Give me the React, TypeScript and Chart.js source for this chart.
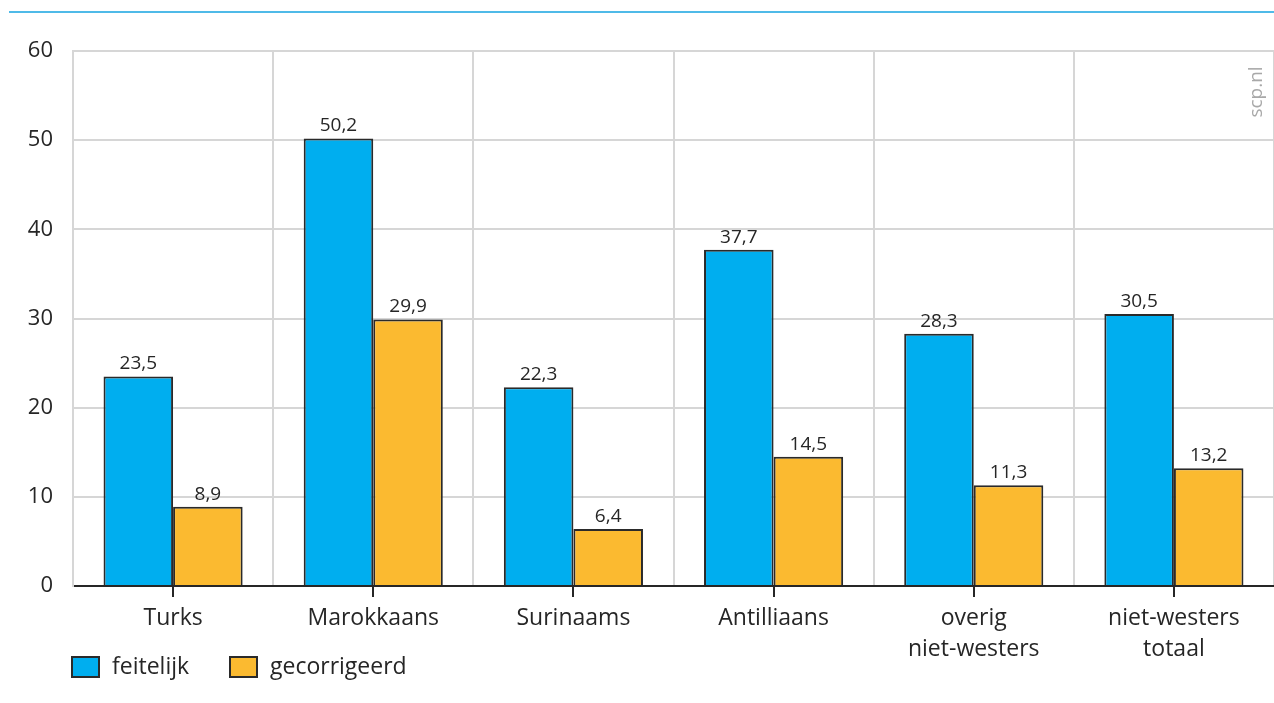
import React, { useEffect, useRef } from 'react';
import { Chart, registerables } from 'chart.js';

Chart.register(...registerables);

const categories: (string | string[])[] = [
  'Turks',
  'Marokkaans',
  'Surinaams',
  'Antilliaans',
  ['overig', 'niet-westers'],
  ['niet-westers', 'totaal'],
];
const feitelijk = [23.5, 50.2, 22.3, 37.7, 28.3, 30.5];
const gecorrigeerd = [8.9, 29.9, 6.4, 14.5, 11.3, 13.2];
const seriesNames = ['feitelijk', 'gecorrigeerd'];
const yMax = 60;
const yStep = 10;
const sourceText = 'scp.nl';

const BLUE = '#00AEEF';
const ORANGE = '#FBBA30';
const EDGE = '#2a2a2a';
const TEXT = '#262626';
const GRID = '#d6d6d6';
const FONT = '"Open Sans", "Noto Sans", sans-serif';

const fmt = (v: number) => v.toFixed(1).replace('.', ',');

const decorPlugin = {
  id: 'decor',
  afterDatasetsDraw(chart: any) {
    const ctx = chart.ctx;
    const xs = chart.scales.x;
    const area = chart.chartArea;
    ctx.save();
    // value labels
    ctx.font = `19px ${FONT}`;
    ctx.fillStyle = TEXT;
    ctx.textAlign = 'center';
    ctx.textBaseline = 'bottom';
    chart.data.datasets.forEach((ds: any, di: number) => {
      const meta = chart.getDatasetMeta(di);
      meta.data.forEach((bar: any, i: number) => {
        ctx.fillText(fmt(ds.data[i]), bar.x, bar.y - 3);
      });
    });
    // tick marks at category centers
    ctx.strokeStyle = TEXT;
    ctx.lineWidth = 2;
    categories.forEach((_, i) => {
      const x = Math.round(xs.getPixelForValue(i));
      ctx.beginPath();
      ctx.moveTo(x, area.bottom);
      ctx.lineTo(x, area.bottom + 11);
      ctx.stroke();
    });
    ctx.restore();
  },
  afterDraw(chart: any) {
    const ctx = chart.ctx;
    ctx.save();
    // top rule
    ctx.strokeStyle = '#14a3e0';
    ctx.lineWidth = 1.5;
    ctx.beginPath();
    ctx.moveTo(9, 12);
    ctx.lineTo(chart.width, 12);
    ctx.stroke();
    // source text
    ctx.translate(1257, 92);
    ctx.rotate(-Math.PI / 2);
    ctx.font = `19px ${FONT}`;
    ctx.fillStyle = '#a8a8a8';
    ctx.textAlign = 'center';
    ctx.textBaseline = 'middle';
    ctx.fillText(sourceText, 0, 0);
    ctx.restore();
    // legend
    ctx.save();
    const colors = [BLUE, ORANGE];
    const boxX = [72, 230];
    ctx.font = `23px ${FONT}`;
    ctx.textBaseline = 'middle';
    ctx.textAlign = 'left';
    seriesNames.forEach((name, i) => {
      ctx.fillStyle = colors[i];
      ctx.fillRect(boxX[i], 657, 27, 20);
      ctx.strokeStyle = EDGE;
      ctx.lineWidth = 2;
      ctx.strokeRect(boxX[i], 657, 27, 20);
      ctx.fillStyle = TEXT;
      ctx.fillText(name, boxX[i] + 40, 667);
    });
    ctx.restore();
  },
};

export default function App() {
  const ref = useRef<HTMLCanvasElement>(null);
  useEffect(() => {
    if (!ref.current) return;
    const chart = new Chart(ref.current, {
      type: 'bar',
      data: {
        labels: categories as any,
        datasets: [
          {
            label: seriesNames[0],
            data: feitelijk,
            backgroundColor: BLUE,
            borderColor: EDGE,
            borderWidth: 2,
            barPercentage: 1,
            categoryPercentage: 0.695,
          },
          {
            label: seriesNames[1],
            data: gecorrigeerd,
            backgroundColor: ORANGE,
            borderColor: EDGE,
            borderWidth: 2,
            barPercentage: 1,
            categoryPercentage: 0.695,
          },
        ],
      },
      options: {
        animation: false,
        responsive: true,
        maintainAspectRatio: false,
        layout: { padding: { top: 51, right: 0, left: 0, bottom: 0 } },
        plugins: {
          legend: { display: false },
          tooltip: { enabled: false },
        },
        scales: {
          x: {
            offset: true,
            grid: {
              offset: true,
              color: GRID,
              lineWidth: 2,
              drawTicks: false,
            },
            border: { color: TEXT, width: 2 },
            ticks: {
              color: TEXT,
              font: { family: FONT, size: 23, lineHeight: '31px' },
              padding: 17,
              maxRotation: 0,
              autoSkip: false,
            },
            afterFit: (s: any) => {
              s.height = 117;
            },
          },
          y: {
            min: 0,
            max: yMax,
            ticks: {
              stepSize: yStep,
              color: TEXT,
              font: { family: FONT, size: 22 },
              padding: 20,
            },
            grid: { color: GRID, lineWidth: 2, drawTicks: false },
            border: { color: GRID, width: 2 },
            afterFit: (s: any) => {
              s.width = 73;
            },
          },
        },
      },
      plugins: [decorPlugin],
    });
    return () => chart.destroy();
  }, []);
  return (
    <div style={{ position: 'absolute', left: 0, top: 0, width: 1274, height: 703, background: '#fff' }}>
      <canvas ref={ref} />
    </div>
  );
}
